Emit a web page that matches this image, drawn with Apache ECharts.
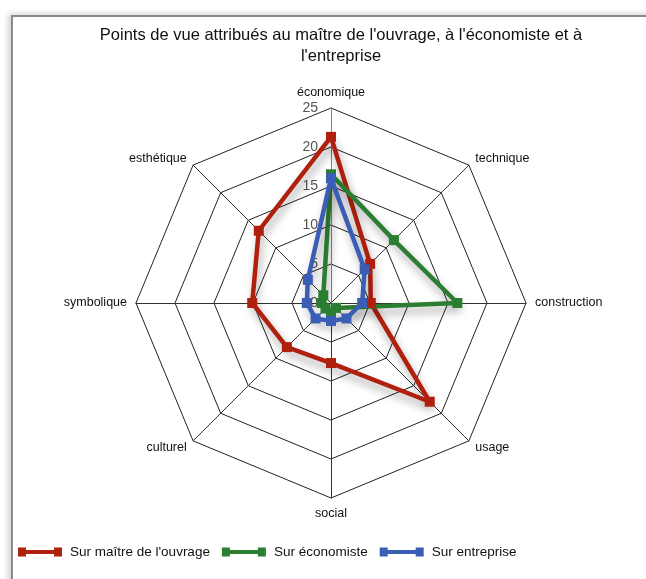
<!DOCTYPE html>
<html>
<head>
<meta charset="utf-8">
<script src="https://cdn.jsdelivr.net/npm/echarts@6/dist/echarts.min.js"></script>
<style>
html,body{margin:0;padding:0;background:#fff;width:646px;height:579px;overflow:hidden;}
#frame{position:absolute;left:11px;top:15px;width:700px;height:640px;border-left:2px solid #8a8a8a;border-top:2px solid #8a8a8a;box-shadow:-3px -1px 6px rgba(0,0,0,0.18);background:#fff;}
#chart{position:absolute;left:0;top:0;width:646px;height:579px;}
</style>
</head>
<body>
<div id="frame"></div>
<div id="chart"></div>
<script>
// Categories in clockwise order starting at the top
var categories = ['économique', 'technique', 'construction', 'usage', 'social', 'culturel', 'symbolique', 'esthétique'];
var maitreOuvrage = [21.3, 7.1, 5.1, 17.9, 7.7, 8.0, 10.1, 13.1];
var economiste   = [16.5, 11.4, 16.2, 0.9, 1.2, 1.0, 1.2, 1.4];
var entreprise   = [16.0, 6.1, 4.0, 2.8, 2.3, 2.8, 3.1, 4.2];
var seriesNames = ['Sur maître de l\'ouvrage', 'Sur économiste', 'Sur entreprise'];
var tickValues = [0, 5, 10, 15, 20, 25];
var maxValue = 25;

// ECharts radar places indicators counter-clockwise; reorder to keep the clockwise layout.
function ccw(arr) { return [arr[0]].concat(arr.slice(1).reverse()); }

var colors = ['#B0200E', '#2B7D31', '#3A5DB5'];
var center = [331, 303];
var radius = 195;

var chart = echarts.init(document.getElementById('chart'));
var fontFam = '"Liberation Sans", Arial, sans-serif';

function mkSeries(name, vals, color) {
  return {
    name: name,
    type: 'radar',
    symbol: 'rect',
    symbolSize: 10,
    z: 5,
    lineStyle: { width: 4.5, color: color, shadowColor: 'rgba(0,0,0,0.35)', shadowBlur: 8, shadowOffsetX: 2, shadowOffsetY: 6 },
    itemStyle: { color: color },
    data: [{ value: ccw(vals), name: name }]
  };
}

chart.setOption({
  animation: false,
  backgroundColor: 'transparent',
  color: colors,
  title: {
    text: 'Points de vue attribués au maître de l\'ouvrage, à l\'économiste et à\nl\'entreprise',
    left: 336,
    textAlign: 'center',
    top: 20,
    textStyle: { fontFamily: fontFam, fontSize: 16.5, fontWeight: 'normal', color: '#111', lineHeight: 21 }
  },
  legend: {
    bottom: 15,
    left: 13,
    itemWidth: 44,
    itemHeight: 9,
    itemGap: 12,
    icon: 'path://M0,0H8V2.5H36V0H44V9H36V6.5H8V9H0Z',
    textStyle: { fontFamily: fontFam, fontSize: 13.5, color: '#111', padding: [0, 0, 0, 3] },
    data: seriesNames
  },
  radar: {
    center: center,
    radius: radius,
    startAngle: 90,
    shape: 'polygon',
    splitNumber: 5,
    indicator: ccw(categories).map(function (c) { return { name: c, min: 0, max: maxValue }; }),
    axisName: { color: '#111', fontFamily: fontFam, fontSize: 12.5 },
    nameGap: 9,
    splitArea: { show: false },
    splitLine: { lineStyle: { color: '#222', width: 1 } },
    axisLine: { lineStyle: { color: '#333', width: 1 } },
    axisLabel: { show: false }
  },
  polar: { center: center, radius: radius },
  angleAxis: { show: false, startAngle: 90, min: 0, max: 360 },
  radiusAxis: {
    min: tickValues[0],
    max: tickValues[tickValues.length - 1],
    interval: tickValues[1] - tickValues[0],
    axisLine: { show: true, lineStyle: { color: '#8a807b', width: 1 } },
    axisTick: { show: false },
    splitLine: { show: false },
    axisLabel: { show: true, color: '#555', fontFamily: fontFam, fontSize: 14, align: 'right', verticalAlign: 'middle', padding: [0, 5, 0, 0] },
    z: 3
  },
  series: [
    mkSeries(seriesNames[0], maitreOuvrage, colors[0]),
    mkSeries(seriesNames[1], economiste, colors[1]),
    mkSeries(seriesNames[2], entreprise, colors[2])
  ]
});
</script>
</body>
</html>
